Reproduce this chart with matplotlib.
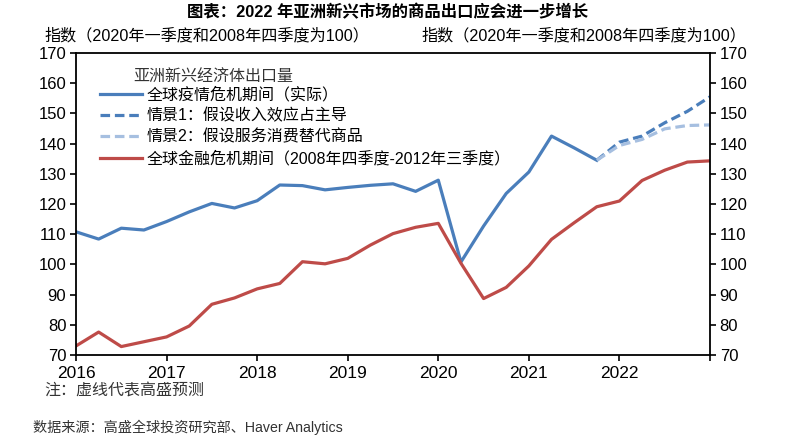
import numpy as np
import matplotlib
matplotlib.use('Agg')
import matplotlib.pyplot as plt

plt.rcParams['font.family'] = ['Liberation Sans Narrow', 'Liberation Sans', 'Noto Sans CJK SC']

# quarterly index, 2016Q1 .. 2023Q1
covid_actual = [110.8, 108.4, 112.0, 111.4, 114.2, 117.4, 120.2, 118.7, 121.1, 126.3,
                126.1, 124.7, 125.5, 126.2, 126.7, 124.2, 127.9, 100.8, 112.7, 123.5,
                130.6, 142.5, 138.6, 134.5]
scenario1 = [134.5, 140.5, 142.5, 146.9, 150.7, 155.5]
scenario2 = [134.5, 139.4, 141.4, 144.9, 146.0, 146.2]
gfc = [73.0, 77.6, 72.8, 74.4, 76.0, 79.6, 86.8, 88.9, 91.9, 93.7,
       100.9, 100.2, 102.0, 106.4, 110.2, 112.3, 113.6, 100.4, 88.7, 92.4,
       99.5, 108.3, 113.8, 119.1, 121.0, 127.8, 131.2, 133.9, 134.3]
years = ['2016', '2017', '2018', '2019', '2020', '2021', '2022', '']

blue = '#4A7EBB'
light_blue = '#A6BFE0'
red = '#BE4B48'

fig = plt.figure(figsize=(8, 4.37), dpi=100)
ax = fig.add_axes([0.095, 0.1876, 0.7925, 0.691])

x_act = np.arange(len(covid_actual))
x_fc = np.arange(len(covid_actual) - 1, len(covid_actual) - 1 + len(scenario1))
x_gfc = np.arange(len(gfc))

ax.plot(x_act, covid_actual, color=blue, lw=2.3, label='全球疫情危机期间（实际）')
ax.plot(x_fc, scenario1, color=blue, lw=2.3, ls=(0, (3, 1.5)), label='情景1：假设收入效应占主导')
ax.plot(x_fc, scenario2, color=light_blue, lw=2.3, ls=(0, (3, 1.5)), label='情景2：假设服务消费替代商品')
ax.plot(x_gfc, gfc, color=red, lw=2.3, label='全球金融危机期间（2008年四季度-2012年三季度）')

ax.set_xlim(0, 28)
ax.set_ylim(70, 170)
ax.set_xticks(np.arange(0, 29, 4))
ax.set_xticklabels(years, fontsize=12.5)
ax.set_yticks(np.arange(70, 171, 10))
ax.tick_params(axis='y', labelsize=12, direction='out', length=4, width=1.2,
               right=True, labelright=True, pad=3)
ax.tick_params(axis='x', direction='out', length=4, width=1.2, pad=4)
for s in ax.spines.values():
    s.set_linewidth(1.3)
    s.set_color('black')

ax.legend(loc='upper left', bbox_to_anchor=(0.038, 0.888), frameon=False,
          fontsize=11.5, handlelength=2.6, handletextpad=0.3, labelspacing=0.36,
          borderpad=0, borderaxespad=0)
ax.text(0.09, 0.922, '亚洲新兴经济体出口量', transform=ax.transAxes, fontsize=11.5,
        va='center', ha='left', color='#333333')

fig.text(0.485, 0.972, '图表：2022 年亚洲新兴市场的商品出口应会进一步增长', ha='center', va='center',
         fontsize=11.8, fontweight='bold')
fig.text(0.056, 0.918, '指数（2020年一季度和2008年四季度为100）', ha='left', va='center', fontsize=11.6)
fig.text(0.527, 0.918, '指数（2020年一季度和2008年四季度为100）', ha='left', va='center', fontsize=11.6)
fig.text(0.056, 0.108, '注：虚线代表高盛预测', ha='left', va='center', fontsize=11.5, color='#333333')
fig.text(0.041, 0.023, '数据来源：高盛全球投资研究部、Haver Analytics', ha='left', va='center',
         fontsize=10.2, color='#333333')

fig.savefig('out.png', dpi=100)
